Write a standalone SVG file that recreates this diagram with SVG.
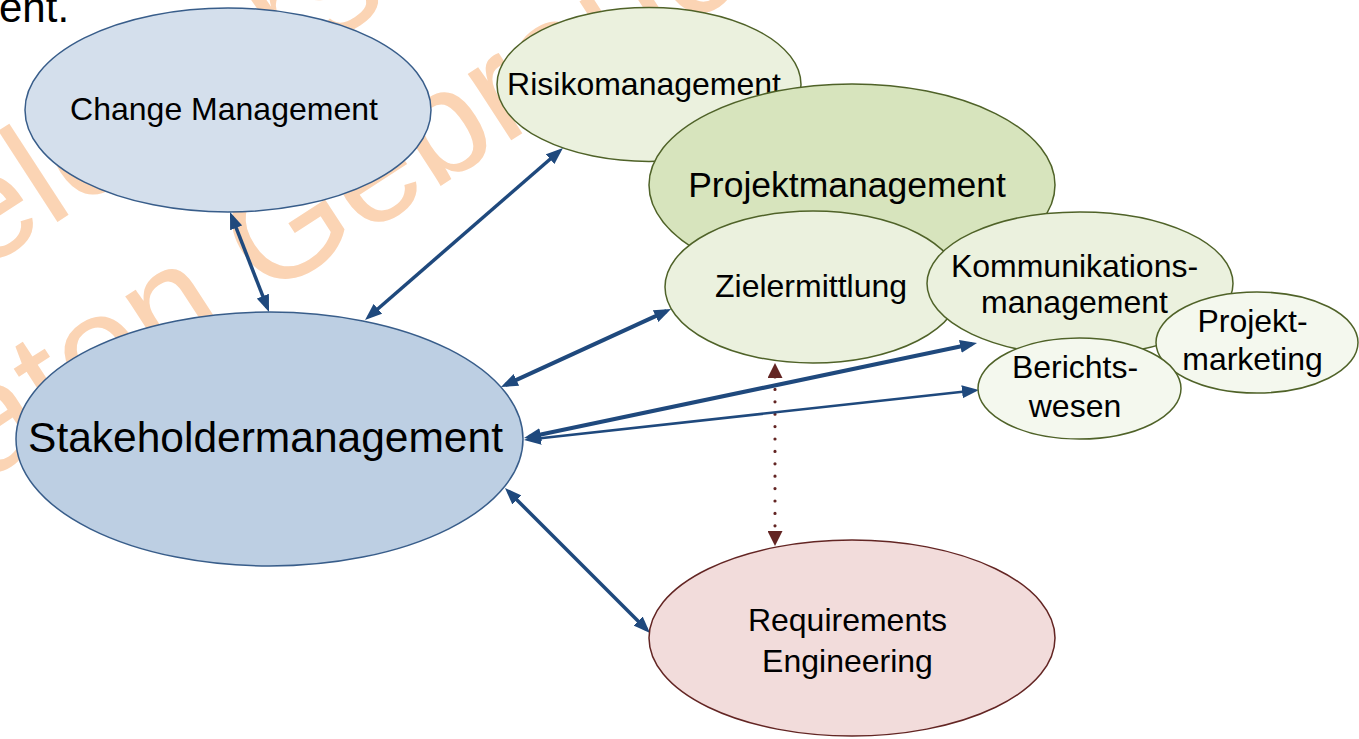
<svg xmlns="http://www.w3.org/2000/svg" width="1359" height="739" viewBox="0 0 1359 739">
<style>
text{font-family:"Liberation Sans",Arial,sans-serif;fill:#000}
.wm{fill:#FBD4B4;font-size:150px}
.lbl{font-size:32px;text-anchor:middle}
.nb{stroke:#385D8A;stroke-width:1.5}
.ng{stroke:#4F6228;stroke-width:1.5}
.nr{stroke:#632523;stroke-width:1.5}
.c{fill:none;stroke:#1F497D;marker-start:url(#ah);marker-end:url(#ah)}
</style>
<defs>
<marker id="ah" markerUnits="userSpaceOnUse" markerWidth="17" markerHeight="14" refX="12" refY="7" orient="auto-start-reverse" viewBox="0 0 17 14"><path d="M0,0.5 L17,7 L0,13.5 z" fill="#1F497D"/></marker>
<marker id="ahr" markerUnits="userSpaceOnUse" markerWidth="15" markerHeight="15" refX="1" refY="7.5" orient="auto-start-reverse" viewBox="0 0 15 15"><path d="M0,0 L15,7.5 L0,15 z" fill="#632523"/></marker>
</defs>
<rect width="1359" height="739" fill="#fff"/>
<g id="watermark">
<text class="wm" transform="translate(-21,273) rotate(-33)">ele</text>
<text class="wm" transform="translate(286,72) rotate(-33)">rs</text>
<text class="wm" transform="translate(-15,482) rotate(-33)">aten Gebrauch</text>
</g>
<text x="-1" y="22" style="font-size:42px">ent.</text>
<g id="connectors">
<line x1="775" y1="377" x2="775" y2="532" stroke="#632523" stroke-width="3.2" stroke-dasharray="0 12.4" stroke-linecap="round" marker-start="url(#ahr)" marker-end="url(#ahr)"/>
<line class="c" stroke-width="3.5" x1="231.8" y1="216.7" x2="267.2" y2="307.3"/>
<line class="c" stroke-width="3.5" x1="559.2" y1="151.3" x2="368.8" y2="316.7"/>
<line class="c" stroke-width="4" x1="666.5" y1="311.1" x2="505.5" y2="384.9"/>
<line class="c" stroke-width="4" x1="972.1" y1="344" x2="528.9" y2="437"/>
<line class="c" stroke-width="2.5" x1="974" y1="390.5" x2="529" y2="439.5"/>
<line class="c" stroke-width="3.5" x1="508.5" y1="491.5" x2="646.5" y2="629.5"/>
</g>
<g id="change">
<ellipse class="nb" cx="228" cy="110" rx="203" ry="102" fill="#D4DFEC"/>
<text class="lbl" x="224" y="120">Change Management</text>
</g>
<g id="stakeholder">
<ellipse class="nb" cx="269.5" cy="439" rx="253.5" ry="127" fill="#BDCFE3"/>
<text class="lbl" x="265.5" y="452" style="font-size:42.5px">Stakeholdermanagement</text>
</g>
<g id="risiko">
<ellipse class="ng" cx="649" cy="84.5" rx="152" ry="77" fill="#EBF1DE"/>
<text class="lbl" x="644" y="95">Risikomanagement</text>
</g>
<g id="projekt">
<ellipse class="ng" cx="852" cy="185" rx="203" ry="101" fill="#D7E4BD"/>
<text class="lbl" x="847" y="197" style="font-size:35.5px">Projektmanagement</text>
</g>
<g id="ziel">
<ellipse class="ng" cx="813" cy="287" rx="148" ry="76" fill="#EBF1DE"/>
<text class="lbl" x="811" y="297">Zielermittlung</text>
</g>
<g id="kommunikation">
<ellipse class="ng" cx="1080" cy="283.5" rx="153" ry="71.5" fill="#EBF1DE"/>
<text class="lbl" x="1074.5" y="277">Kommunikations-</text>
<text class="lbl" x="1074.5" y="313">management</text>
</g>
<g id="marketing">
<ellipse class="ng" cx="1257" cy="342.5" rx="101" ry="50.5" fill="#F4F8EE"/>
<text class="lbl" x="1252.5" y="332">Projekt-</text>
<text class="lbl" x="1252.5" y="370">marketing</text>
</g>
<g id="berichte">
<ellipse class="ng" cx="1079.5" cy="388.5" rx="101.5" ry="50.5" fill="#F4F8EE"/>
<text class="lbl" x="1075" y="378">Berichts-</text>
<text class="lbl" x="1075" y="417">wesen</text>
</g>
<g id="requirements">
<ellipse class="nr" cx="852" cy="638" rx="203" ry="98" fill="#F2DCDB"/>
<text class="lbl" x="847.5" y="631">Requirements</text>
<text class="lbl" x="847.5" y="672">Engineering</text>
</g>
</svg>
